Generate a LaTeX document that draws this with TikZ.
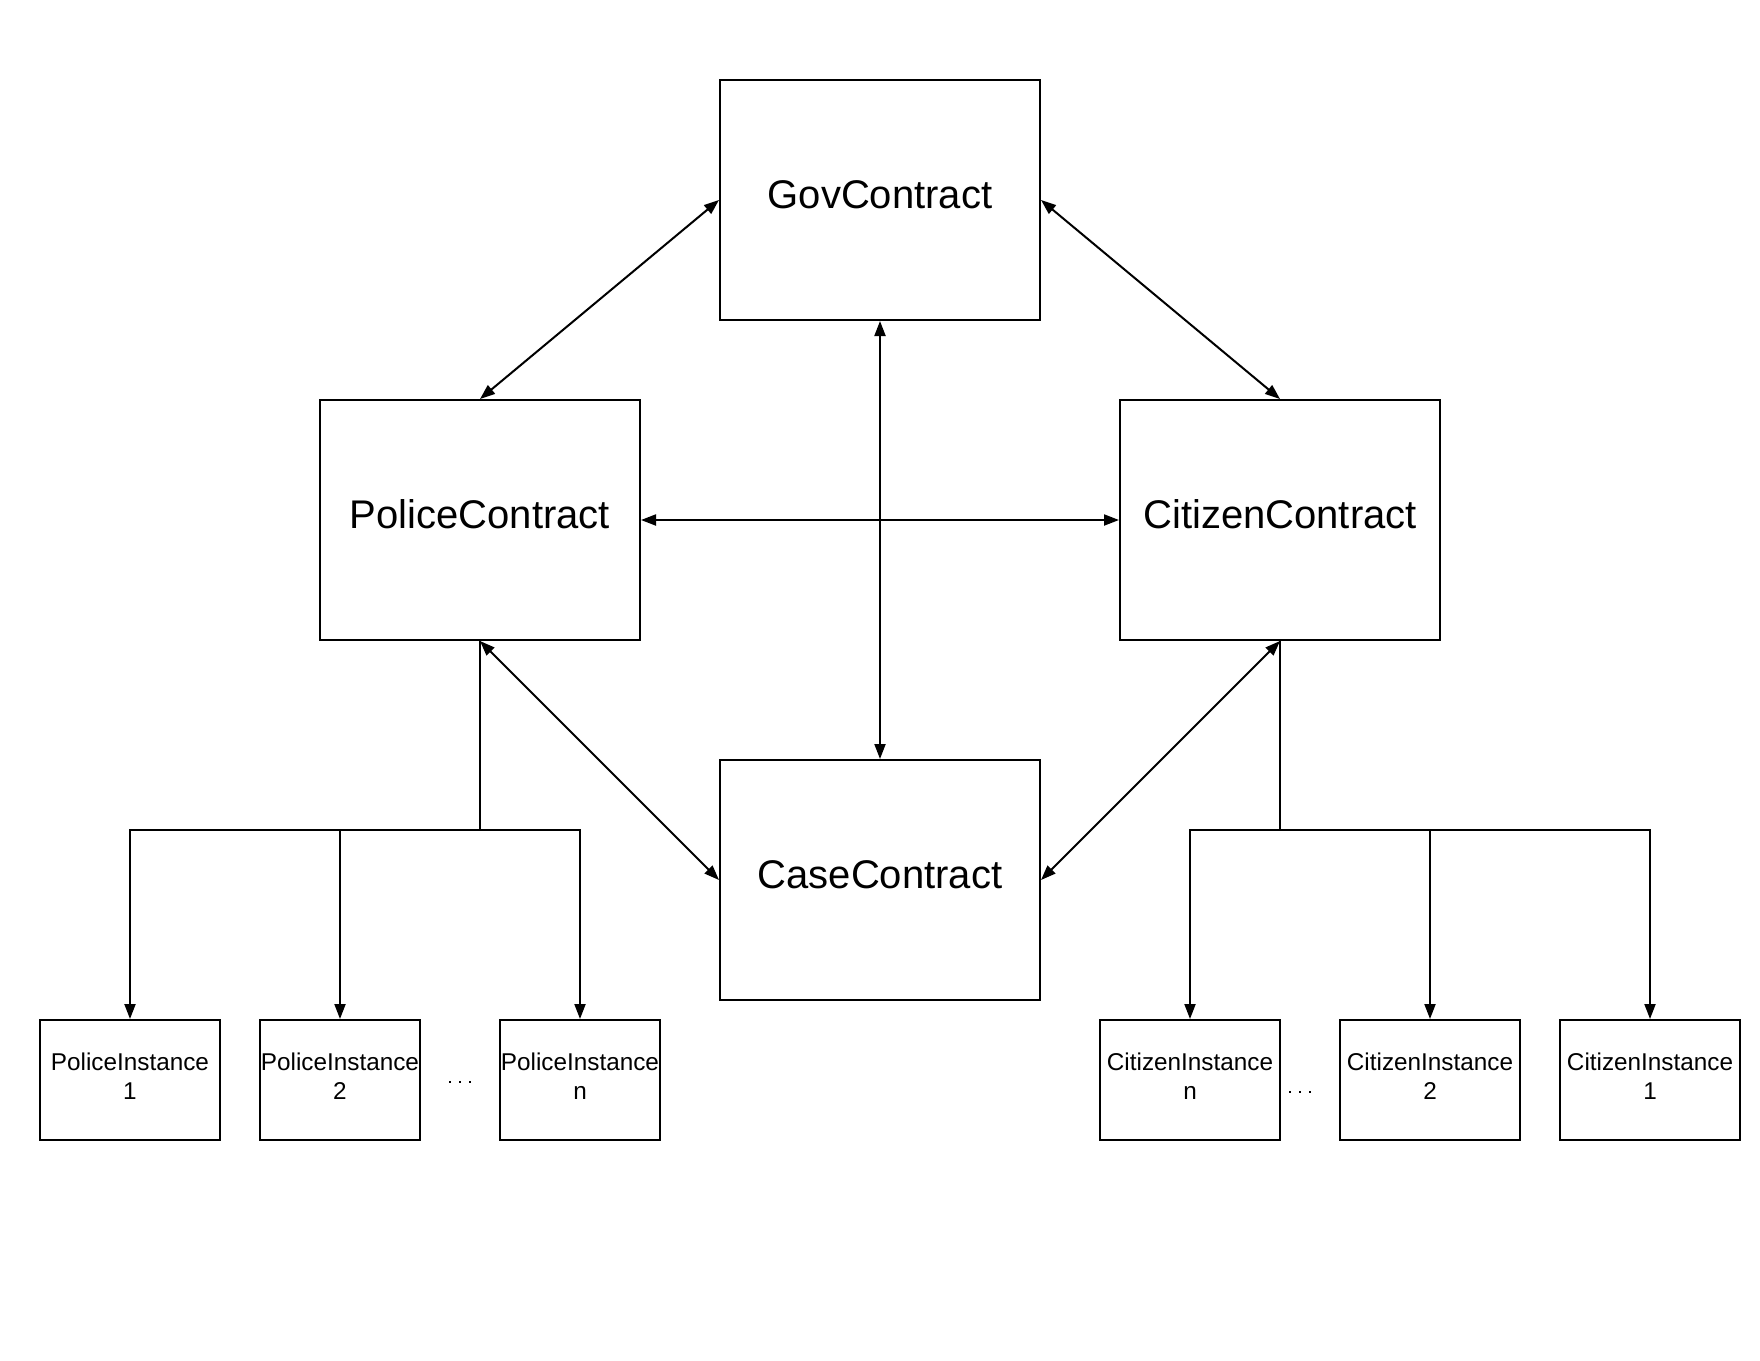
\documentclass[tikz,border=0pt]{standalone}
\usepackage{fontspec}
\setmainfont{Liberation Sans}
\usetikzlibrary{arrows.meta}
\begin{document}
\begin{tikzpicture}[x=1pt,y=-1pt,
  bigbox/.style={draw,line width=2pt,minimum width=320pt,minimum height=240pt,inner sep=0pt,
    font=\fontsize{40}{48}\selectfont,text height=28.6pt,text depth=12pt},
  instbox/.style={draw,line width=2pt,minimum height=120pt,inner sep=0pt,align=center,
    font=\fontsize{24.3}{29}\selectfont,text depth=7pt},
  conn/.style={line width=2pt},
  tip/.style={-{Triangle[length=15pt,width=11pt]}},
  bitip/.style={{Triangle[length=15pt,width=11pt]}-{Triangle[length=15pt,width=11pt]}},
  dotsq/.style={fill=black,minimum size=2.2pt,inner sep=0pt}]
\fill[white] (0,0) rectangle (1760,1360);
\useasboundingbox (0,0) rectangle (1760,1360);

\node[bigbox] (gov) at (880,200) {GovContract};
\node[bigbox] (police) at (480,520) {PoliceContract};
\node[bigbox] (citizen) at (1280,520) {CitizenContract};
\node[bigbox] (case) at (880,880) {CaseContract};

\node[instbox,minimum width=180pt] (pi1) at (130,1080) {PoliceInstance\\1};
\node[instbox,minimum width=160pt] (pi2) at (340,1080) {PoliceInstance\\2};
\node[instbox,minimum width=160pt] (pin) at (580,1080) {PoliceInstance\\n};
\node[instbox,minimum width=180pt] (cin) at (1190,1080) {CitizenInstance\\n};
\node[instbox,minimum width=180pt] (ci2) at (1430,1080) {CitizenInstance\\2};
\node[instbox,minimum width=180pt] (ci1) at (1650,1080) {CitizenInstance\\1};

\node[dotsq] (pd1) at (450,1082) {};
\node[dotsq] (pd2) at (460,1082) {};
\node[dotsq] (pd3) at (470,1082) {};
\node[dotsq] (cd1) at (1290,1092) {};
\node[dotsq] (cd2) at (1300,1092) {};
\node[dotsq] (cd3) at (1310,1092) {};

\draw[conn,bitip] (gov.west) -- (police.north);
\draw[conn,bitip] (gov.east) -- (citizen.north);
\draw[conn,bitip] (gov.south) -- (case.north);
\draw[conn,bitip] (police.east) -- (citizen.west);
\draw[conn,bitip] (police.south) -- (case.west);
\draw[conn,bitip] (citizen.south) -- (case.east);

\coordinate (pj) at (480,830);
\coordinate (cj) at (1280,830);
\draw[conn] (police.south) -- (pj);
\draw[conn,tip] (pj) -| (pi1.north);
\draw[conn,tip] (pj) -| (pi2.north);
\draw[conn,tip] (pj) -| (pin.north);
\draw[conn] (citizen.south) -- (cj);
\draw[conn,tip] (cj) -| (cin.north);
\draw[conn,tip] (cj) -| (ci2.north);
\draw[conn,tip] (cj) -| (ci1.north);
\end{tikzpicture}
\end{document}
